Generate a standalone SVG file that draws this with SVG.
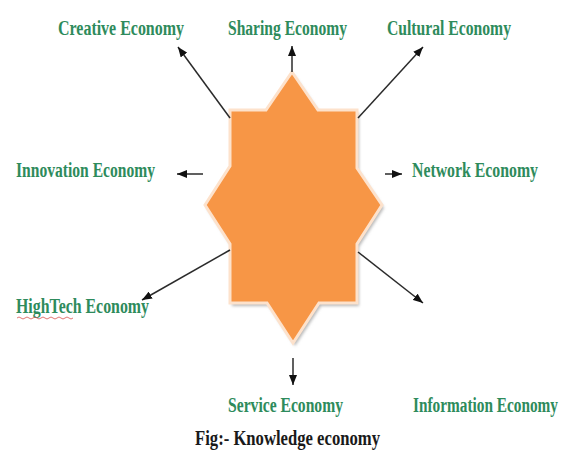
<svg xmlns="http://www.w3.org/2000/svg" width="570" height="462" viewBox="0 0 570 462">
  <style>
    .lbl { font-family: "Liberation Serif", "Times New Roman", serif; font-weight: bold; font-size: 20px; fill: #2E8B5C; }
    .cap { font-family: "Liberation Serif", "Times New Roman", serif; font-weight: bold; font-size: 20px; fill: #1a1a1a; }
    .conn { stroke: #2b2b2b; stroke-width: 1.5; fill: none; }
    .star { fill: #F79646; stroke: #FDE2CC; stroke-width: 3; stroke-linejoin: miter; }
    .shadow { fill: #b8b8b8; }
  </style>
  <defs>
    <marker id="arrow" markerUnits="userSpaceOnUse" markerWidth="10" markerHeight="8" refX="10" refY="4" orient="auto">
      <path d="M0,0 L10,4 L0,8 z" fill="#111"/>
    </marker>
    <filter id="blur" x="-10%" y="-10%" width="120%" height="120%">
      <feGaussianBlur stdDeviation="1.5"/>
    </filter>
  </defs>
  <rect width="570" height="462" fill="#ffffff"/>

  <g id="center-star">
    <polygon class="shadow" filter="url(#blur)" transform="translate(2,3)" points="292,72 318,110 357,110 357,168 382,205 357,244 357,303 319,303 293,343 267,303 230,303 230,244 205,205 230,166 230,110 266,110"/>
    <polygon class="star" points="292,72 318,110 357,110 357,168 382,205 357,244 357,303 319,303 293,343 267,303 230,303 230,244 205,205 230,166 230,110 266,110"/>
  </g>

  <g id="connectors">
    <line class="conn" x1="230" y1="118" x2="178" y2="47" marker-end="url(#arrow)"/>
    <line class="conn" x1="292" y1="72" x2="292" y2="46" marker-end="url(#arrow)"/>
    <line class="conn" x1="358" y1="118" x2="423" y2="47" marker-end="url(#arrow)"/>
    <line class="conn" x1="203" y1="174" x2="177" y2="174" marker-end="url(#arrow)"/>
    <line class="conn" x1="385" y1="174" x2="402" y2="174" marker-end="url(#arrow)"/>
    <line class="conn" x1="230" y1="250" x2="142" y2="300" marker-end="url(#arrow)"/>
    <line class="conn" x1="358" y1="252" x2="423" y2="303" marker-end="url(#arrow)"/>
    <line class="conn" x1="293" y1="358" x2="293" y2="385" marker-end="url(#arrow)"/>
  </g>

  <g id="creative-economy"><text class="lbl" x="58" y="35" textLength="126" lengthAdjust="spacingAndGlyphs">Creative Economy</text></g>
  <g id="sharing-economy"><text class="lbl" x="228" y="35" textLength="119" lengthAdjust="spacingAndGlyphs">Sharing Economy</text></g>
  <g id="cultural-economy"><text class="lbl" x="387" y="35" textLength="124" lengthAdjust="spacingAndGlyphs">Cultural Economy</text></g>
  <g id="innovation-economy"><text class="lbl" x="16" y="177" textLength="139" lengthAdjust="spacingAndGlyphs">Innovation Economy</text></g>
  <g id="network-economy"><text class="lbl" x="412" y="177" textLength="126" lengthAdjust="spacingAndGlyphs">Network Economy</text></g>
  <g id="hightech-economy">
    <text class="lbl" x="16" y="313" textLength="133" lengthAdjust="spacingAndGlyphs">HighTech Economy</text>
    <path d="M17,318 q2,-2 4,0 t4,0 t4,0 t4,0 t4,0 t4,0 t4,0 t4,0 t4,0 t4,0 t4,0 t4,0 t4,0 t4,0" fill="none" stroke="#d9534f" stroke-width="0.8"/>
  </g>
  <g id="service-economy"><text class="lbl" x="228" y="412" textLength="115" lengthAdjust="spacingAndGlyphs">Service Economy</text></g>
  <g id="information-economy"><text class="lbl" transform="translate(413,412) scale(0.767,1)" x="0" y="0" textLength="189" lengthAdjust="spacingAndGlyphs">Information Economy</text></g>
  <g id="caption"><text class="cap" x="195" y="445" textLength="185" lengthAdjust="spacingAndGlyphs">Fig:- Knowledge economy</text></g>
</svg>
